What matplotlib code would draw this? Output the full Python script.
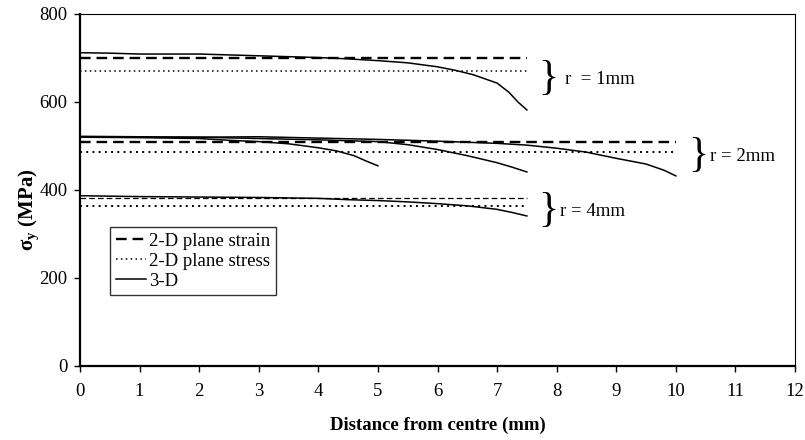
import matplotlib
matplotlib.use("Agg")
import matplotlib.pyplot as plt

plt.rcParams['font.family'] = ['Liberation Serif', 'DejaVu Serif']
plt.rcParams['mathtext.fontset'] = 'custom'
plt.rcParams['mathtext.rm'] = 'Liberation Serif'
plt.rcParams['mathtext.bf'] = 'Liberation Serif:bold'

# ---- data ----
# r = 1 mm
r1_strain_x = [0, 7.5]
r1_strain_y = [700, 700]
r1_stress_x = [0, 7.5]
r1_stress_y = [670, 670]
r1_3d_x = [0, 0.5, 1, 2, 2.5, 3, 3.5, 4, 4.5, 5, 5.5, 6, 6.3, 6.6, 7.0, 7.2, 7.35, 7.5]
r1_3d_y = [712, 711, 709, 709, 707, 705, 703, 701, 698, 694, 689, 680, 672, 662, 643, 622, 600, 582]

# r = 2 mm
r2_strain_x = [0, 10]
r2_strain_y = [508, 508]
r2_stress_x = [0, 10]
r2_stress_y = [486, 486]
r2a_3d_x = [0, 1, 2, 2.5, 3, 3.5, 4, 4.3, 4.6, 4.8, 5.0]
r2a_3d_y = [520, 519, 517, 513, 510, 505, 496, 489, 478, 466, 455]
r2b_3d_x = [0, 1, 2, 3, 4, 5, 5.5, 6, 6.5, 7, 7.25, 7.5]
r2b_3d_y = [522, 521, 520, 517, 514, 510, 503, 492, 478, 462, 452, 441]
r2c_3d_x = [0, 1, 2, 3, 4, 5, 6, 7, 7.5, 8, 8.5, 9, 9.5, 9.8, 10]
r2c_3d_y = [520, 520, 520, 521, 518, 515, 511, 506, 502, 495, 486, 472, 459, 445, 432]

# r = 4 mm
r4_strain_x = [0, 7.5]
r4_strain_y = [382, 382]
r4_stress_x = [0, 7.5]
r4_stress_y = [364, 364]
r4_3d_x = [0, 1, 2, 3, 4, 4.5, 5, 5.5, 6, 6.5, 7, 7.25, 7.5]
r4_3d_y = [387, 385, 384, 383, 381, 378, 376, 373, 369, 364, 356, 349, 341]

# annotations: brace x, label x, y centre, label
brace_x = [7.69, 10.2, 7.69]
label_x = [8.14, 10.57, 8.06]
brace_y = [652, 477, 352]
brace_labels = ['r  = 1mm', 'r = 2mm', 'r = 4mm']

legend_labels = ['2-D plane strain', '2-D plane stress', '3-D']
xticks = list(range(0, 13))
yticks = [0, 200, 400, 600, 800]

FS = 13.5

# ---- plot ----
fig = plt.figure(figsize=(8.05, 4.4), dpi=100)
ax = fig.add_axes([80/805, 1-366/440, 715/805, 352/440])

dash = (0, (4.5, 2.5))
dot = (0, (1, 2.2))
ax.plot(r1_strain_x, r1_strain_y, color='black', lw=1.7, linestyle=dash, label=legend_labels[0])
ax.plot(r1_stress_x, r1_stress_y, color='black', lw=1.1, linestyle=dot, label=legend_labels[1])
ax.plot(r1_3d_x, r1_3d_y, color='black', lw=1.1, label=legend_labels[2])

ax.plot(r2_strain_x, r2_strain_y, color='black', lw=1.7, linestyle=dash)
ax.plot(r2_stress_x, r2_stress_y, color='black', lw=1.4, linestyle=dot)
ax.plot(r2a_3d_x, r2a_3d_y, color='black', lw=1.1)
ax.plot(r2b_3d_x, r2b_3d_y, color='black', lw=1.1)
ax.plot(r2c_3d_x, r2c_3d_y, color='black', lw=1.1)

ax.plot(r4_strain_x, r4_strain_y, color='black', lw=0.9, linestyle=dash)
ax.plot(r4_stress_x, r4_stress_y, color='black', lw=1.4, linestyle=dot)
ax.plot(r4_3d_x, r4_3d_y, color='black', lw=1.1)

for bx, lx, by, lab in zip(brace_x, label_x, brace_y, brace_labels):
    ax.text(bx, by, '}', fontsize=30, ha='left', va='center')
    ax.text(lx, by, lab, fontsize=FS, ha='left', va='center')

ax.set_xlim(0, 12)
ax.set_ylim(0, 800)
ax.set_xticks(xticks)
ax.set_yticks(yticks)
ax.tick_params(axis='both', direction='out', length=4, width=1, labelsize=FS)
ax.tick_params(axis='x', pad=8)
ax.tick_params(axis='y', pad=5)
for s in ['left', 'bottom']:
    ax.spines[s].set_linewidth(1.6)
for s in ['top', 'right']:
    ax.spines[s].set_linewidth(0.8)

ax.set_xlabel('Distance from centre (mm)', fontsize=FS, fontweight='bold', labelpad=12)
ax.set_ylabel(r'σ$_\mathbf{y}$ (MPa)', fontsize=15, fontweight='bold')
ax.yaxis.set_label_coords((42 - 80) / 715, (366 - 210) / 352)

leg = ax.legend(loc='upper left', bbox_to_anchor=(30/715, (366-227)/352), fontsize=FS,
                frameon=True, fancybox=False, edgecolor='black', handlelength=1.6,
                handletextpad=0.2, borderpad=0.3, labelspacing=0.15, borderaxespad=0)
leg.get_frame().set_linewidth(1.0)

fig.savefig('out.png', dpi=100)
